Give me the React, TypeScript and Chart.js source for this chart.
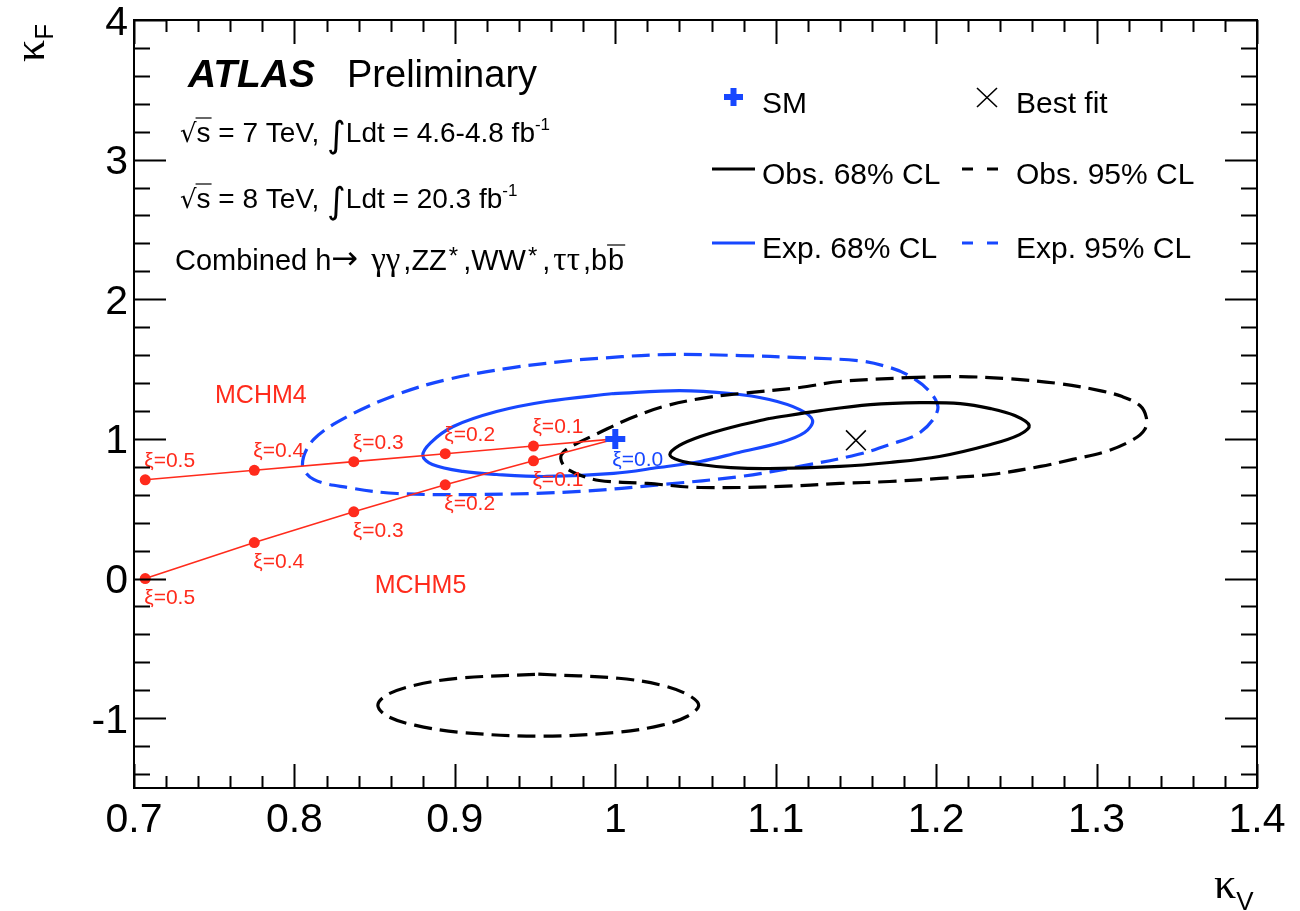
import React, { useEffect, useRef } from 'react';
import { Chart, registerables } from 'chart.js';

Chart.register(...registerables);

// ---------- axis ranges and ticks ----------
const X_MIN = 0.7;
const X_MAX = 1.4;
const Y_MIN = -1.5;
const Y_MAX = 4;
const xTickValues = [0.7, 0.8, 0.9, 1.0, 1.1, 1.2, 1.3, 1.4];
const xTickLabels = ['0.7', '0.8', '0.9', '1', '1.1', '1.2', '1.3', '1.4'];
const yTickValues = [-1, 0, 1, 2, 3, 4];
const yTickLabels = ['-1', '0', '1', '2', '3', '4'];

// ---------- contours (kappa_V, kappa_F) ----------
const obs68: [number, number][] = [
  [1.096, 1.146], [1.128, 1.203], [1.159, 1.246], [1.190, 1.260], [1.215, 1.253], [1.234, 1.217],
  [1.249, 1.167], [1.258, 1.096], [1.252, 1.031], [1.234, 0.960], [1.202, 0.874], [1.171, 0.831],
  [1.140, 0.803], [1.096, 0.788], [1.072, 0.795], [1.053, 0.817], [1.040, 0.845], [1.034, 0.888],
  [1.040, 0.953], [1.053, 1.017], [1.072, 1.082], [1.096, 1.146],
];
const obs95: [number, number][] = [
  [1.182, 1.439], [1.215, 1.446], [1.244, 1.432], [1.277, 1.396], [1.302, 1.346], [1.316, 1.303],
  [1.327, 1.239], [1.331, 1.153], [1.330, 1.067], [1.323, 0.996], [1.306, 0.910], [1.285, 0.853],
  [1.265, 0.803], [1.234, 0.745], [1.202, 0.717], [1.171, 0.695], [1.140, 0.681], [1.103, 0.660],
  [1.053, 0.652], [1.020, 0.681], [0.990, 0.702], [0.977, 0.745], [0.969, 0.795], [0.966, 0.860],
  [0.968, 0.910], [0.976, 0.967], [0.989, 1.039], [1.009, 1.146], [1.030, 1.232], [1.053, 1.289],
  [1.078, 1.325], [1.115, 1.368], [1.140, 1.411], [1.182, 1.439],
];
const obs95Island: [number, number][] = [
  [0.952, -0.685], [1.002, -0.714], [1.029, -0.764], [1.045, -0.831], [1.052, -0.907], [1.045, -0.986],
  [1.029, -1.050], [1.002, -1.100], [0.952, -1.129], [0.902, -1.100], [0.875, -1.050], [0.858, -0.986],
  [0.852, -0.907], [0.858, -0.831], [0.875, -0.764], [0.902, -0.714], [0.952, -0.685],
];
const exp68: [number, number][] = [
  [0.999, 1.325], [1.040, 1.346], [1.072, 1.325], [1.096, 1.282], [1.115, 1.210], [1.123, 1.132],
  [1.118, 1.046], [1.103, 0.974], [1.077, 0.903], [1.053, 0.838], [1.027, 0.795], [0.999, 0.753],
  [0.957, 0.731], [0.926, 0.745], [0.905, 0.767], [0.886, 0.817], [0.880, 0.881], [0.885, 0.974],
  [0.899, 1.089], [0.926, 1.196], [0.957, 1.268], [0.999, 1.325],
];
const exp95: [number, number][] = [
  [0.978, 1.568], [1.030, 1.604], [1.078, 1.597], [1.115, 1.582], [1.151, 1.561], [1.167, 1.525],
  [1.182, 1.461], [1.196, 1.339], [1.201, 1.210], [1.190, 1.046], [1.171, 0.960], [1.151, 0.888],
  [1.115, 0.803], [1.078, 0.731], [1.030, 0.674], [0.978, 0.624], [0.916, 0.602], [0.864, 0.609],
  [0.833, 0.652], [0.812, 0.710], [0.805, 0.817], [0.812, 0.996], [0.833, 1.160], [0.864, 1.318],
  [0.895, 1.425], [0.936, 1.511], [0.978, 1.568],
];

// ---------- composite Higgs model benchmarks ----------
const xiLabels = ['ξ=0.0', 'ξ=0.1', 'ξ=0.2', 'ξ=0.3', 'ξ=0.4', 'ξ=0.5'];
const mchm4KV = [1.0, 0.949, 0.894, 0.837, 0.775, 0.707];
const mchm4KF = [1.0, 0.949, 0.894, 0.837, 0.775, 0.707];
const mchm5KV = [1.0, 0.949, 0.894, 0.837, 0.775, 0.707];
const mchm5KF = [1.0, 0.843, 0.671, 0.478, 0.258, 0.0];

const smPoint = [1.0, 1.0];
const bestFitPoint = [1.15, 0.99];

// ---------- styles ----------
const BLUE = '#1747ff';
const RED = '#ff2b1c';
const BLACK = '#000000';
const SANS = '"Liberation Sans", Arial, Helvetica, sans-serif';
const SERIF = '"Liberation Serif", "DejaVu Serif", serif';
const SYM = '"DejaVu Sans", sans-serif';
const GREEK = '"Liberation Serif", "DejaVu Serif", serif';

type Seg = { t: string; font: string; dy?: number; over?: number; gap?: number };

function drawRich(ctx: CanvasRenderingContext2D, x: number, y: number, segs: Seg[]) {
  let cx = x;
  for (const s of segs) {
    ctx.font = s.font;
    ctx.fillText(s.t, cx, y + (s.dy || 0));
    const w = ctx.measureText(s.t).width;
    if (s.over !== undefined) {
      ctx.beginPath();
      ctx.lineWidth = 1.2;
      ctx.moveTo(cx - 1, y + s.over);
      ctx.lineTo(cx + w + 1, y + s.over);
      ctx.stroke();
    }
    cx += w + (s.gap || 0);
  }
  return cx;
}

const overlayPlugin = {
  id: 'rootOverlay',
  afterDatasetsDraw(chart: any) {
    const ctx: CanvasRenderingContext2D = chart.ctx;
    const xs = chart.scales.x;
    const ys = chart.scales.y;
    const { left, right, top, bottom } = chart.chartArea;
    ctx.save();
    ctx.textBaseline = 'alphabetic';

    // --- xi labels ---
    ctx.font = `21px ${SANS}`;
    ctx.textAlign = 'left';
    ctx.fillStyle = RED;
    for (let i = 1; i < mchm4KV.length; i++) {
      const px = xs.getPixelForValue(mchm4KV[i]);
      const py = ys.getPixelForValue(mchm4KF[i]);
      ctx.fillText(xiLabels[i], px - 1, py - 13);
    }
    for (let i = 1; i < mchm5KV.length; i++) {
      const px = xs.getPixelForValue(mchm5KV[i]);
      const py = ys.getPixelForValue(mchm5KF[i]);
      ctx.fillText(xiLabels[i], px - 1, py + 25);
    }
    ctx.fillStyle = BLUE;
    ctx.fillText(xiLabels[0], xs.getPixelForValue(smPoint[0]) - 3, ys.getPixelForValue(smPoint[1]) + 27);

    ctx.fillStyle = RED;
    ctx.font = `25px ${SANS}`;
    ctx.fillText('MCHM4', xs.getPixelForValue(0.7505), ys.getPixelForValue(1.26));
    ctx.fillText('MCHM5', xs.getPixelForValue(0.850), ys.getPixelForValue(-0.10));

    // --- frame and ticks ---
    ctx.strokeStyle = BLACK;
    ctx.lineWidth = 2;
    ctx.beginPath();
    ctx.rect(left, top, right - left, bottom - top);
    ctx.stroke();
    ctx.beginPath();
    for (let k = 0; k <= 35; k++) {
      const v = X_MIN + k * 0.02;
      const px = Math.round(xs.getPixelForValue(v)) + 0.5;
      const len = k % 5 === 0 ? 24 : 12;
      ctx.moveTo(px, bottom);
      ctx.lineTo(px, bottom - len);
      ctx.moveTo(px, top);
      ctx.lineTo(px, top + len);
    }
    for (let k = 0; k <= 27; k++) {
      const v = -1.4 + k * 0.2;
      const py = Math.round(ys.getPixelForValue(v)) + 0.5;
      const major = Math.abs(v - Math.round(v)) < 1e-6;
      const len = major ? 32 : 16;
      ctx.moveTo(left, py);
      ctx.lineTo(left + len, py);
      ctx.moveTo(right, py);
      ctx.lineTo(right - len, py);
    }
    ctx.stroke();

    // --- tick labels ---
    ctx.fillStyle = BLACK;
    ctx.font = `41px ${SANS}`;
    ctx.textAlign = 'center';
    xTickValues.forEach((v, i) => {
      ctx.fillText(xTickLabels[i], xs.getPixelForValue(v), bottom + 44);
    });
    ctx.textAlign = 'right';
    yTickValues.forEach((v, i) => {
      ctx.fillText(yTickLabels[i], left - 6, ys.getPixelForValue(v) + 14.5);
    });

    // --- axis titles ---
    ctx.textAlign = 'left';
    ctx.font = `44px ${SERIF}`;
    ctx.fillText('κ', 1214, 898);
    const kw = ctx.measureText('κ').width;
    ctx.font = `26px ${SANS}`;
    ctx.fillText('V', 1214 + kw, 910);

    ctx.save();
    ctx.translate(44, 62);
    ctx.rotate(-Math.PI / 2);
    ctx.font = `44px ${SERIF}`;
    ctx.fillText('κ', 0, 0);
    const kw2 = ctx.measureText('κ').width;
    ctx.font = `26px ${SANS}`;
    ctx.fillText('F', kw2, 9);
    ctx.restore();

    // --- header text ---
    ctx.fillStyle = BLACK;
    ctx.strokeStyle = BLACK;
    ctx.font = `italic bold 39px ${SANS}`;
    ctx.fillText('ATLAS', 188, 87);
    ctx.font = `38px ${SANS}`;
    ctx.fillText('Preliminary', 347, 87);

    const F28 = `28px ${SANS}`;
    const F29 = `29px ${SANS}`;
    const F17 = `17px ${SANS}`;
    drawRich(ctx, 180, 142, [
      { t: '√', font: `26px ${SYM}` },
      { t: 's', font: F28, over: -24 },
      { t: ' = 7 TeV, ', font: F28 },
      { t: '∫', font: `36px ${SYM}`, dy: 5 },
      { t: 'Ldt = 4.6-4.8 fb', font: F28 },
      { t: '-1', font: F17, dy: -12 },
    ]);
    drawRich(ctx, 180, 208, [
      { t: '√', font: `26px ${SYM}` },
      { t: 's', font: F28, over: -24 },
      { t: ' = 8 TeV, ', font: F28 },
      { t: '∫', font: `36px ${SYM}`, dy: 5 },
      { t: 'Ldt = 20.3 fb', font: F28 },
      { t: '-1', font: F17, dy: -12 },
    ]);
    drawRich(ctx, 175, 270, [
      { t: 'Combined h', font: F29 },
      { t: '→', font: `32px ${SYM}`, dy: -1, gap: 13 },
      { t: 'γγ', font: `33px ${GREEK}`, gap: 3 },
      { t: ',ZZ', font: F29, gap: 2 },
      { t: '*', font: `24px ${SANS}`, dy: -6, gap: 5 },
      { t: ',WW', font: F29, gap: 2 },
      { t: '*', font: `24px ${SANS}`, dy: -6, gap: 5 },
      { t: ',', font: F29, gap: 3 },
      { t: 'ττ', font: `33px ${GREEK}`, gap: 3 },
      { t: ',b', font: F29, gap: 1 },
      { t: 'b', font: F29, over: -25 },
    ]);

    // --- legend ---
    const FL = `30px ${SANS}`;
    ctx.font = FL;
    ctx.textAlign = 'left';
    // SM cross
    ctx.strokeStyle = BLUE;
    ctx.lineWidth = 6;
    ctx.beginPath();
    ctx.moveTo(724, 97); ctx.lineTo(743, 97);
    ctx.moveTo(733.5, 88); ctx.lineTo(733.5, 106);
    ctx.stroke();
    ctx.fillText('SM', 762, 113);
    // best fit X
    ctx.strokeStyle = BLACK;
    ctx.lineWidth = 1.6;
    ctx.beginPath();
    ctx.moveTo(977, 88); ctx.lineTo(997, 107);
    ctx.moveTo(997, 88); ctx.lineTo(977, 107);
    ctx.stroke();
    ctx.fillText('Best fit', 1016, 113);
    // line samples
    const sample = (color: string, y: number, dashed: boolean, x0: number) => {
      ctx.strokeStyle = color;
      ctx.lineWidth = 3;
      ctx.beginPath();
      if (dashed) {
        ctx.moveTo(x0, y); ctx.lineTo(x0 + 11, y);
        ctx.moveTo(x0 + 25, y); ctx.lineTo(x0 + 36, y);
      } else {
        ctx.moveTo(x0, y); ctx.lineTo(x0 + 43, y);
      }
      ctx.stroke();
    };
    sample(BLACK, 169, false, 712);
    ctx.fillText('Obs. 68% CL', 762, 184);
    sample(BLACK, 169, true, 962);
    ctx.fillText('Obs. 95% CL', 1016, 184);
    sample(BLUE, 243, false, 712);
    ctx.fillText('Exp. 68% CL', 762, 258);
    sample(BLUE, 243, true, 962);
    ctx.fillText('Exp. 95% CL', 1016, 258);

    ctx.restore();
  },
};

const toXY = (pts: [number, number][]) => pts.map(([x, y]) => ({ x, y }));

export default function App() {
  const canvasRef = useRef<HTMLCanvasElement>(null);

  useEffect(() => {
    const canvas = canvasRef.current;
    if (!canvas) return;
    const contour = (label: string, pts: [number, number][], color: string, dashed: boolean, order: number) => ({
      label,
      data: toXY(pts),
      showLine: true,
      borderColor: color,
      borderWidth: 3.2,
      borderDash: dashed ? [18, 8] : [],
      tension: 0.35,
      pointRadius: 0,
      fill: false,
      order,
    });
    const chart = new Chart(canvas, {
      type: 'scatter',
      data: {
        datasets: [
          {
            label: 'SM',
            data: [{ x: smPoint[0], y: smPoint[1] }],
            pointStyle: 'cross',
            pointRadius: 10,
            pointBorderWidth: 6,
            pointBorderColor: BLUE,
            pointBackgroundColor: BLUE,
            showLine: false,
            order: 0,
          },
          {
            label: 'Best fit',
            data: [{ x: bestFitPoint[0], y: bestFitPoint[1] }],
            pointStyle: 'crossRot',
            pointRadius: 14,
            pointBorderWidth: 1.6,
            pointBorderColor: BLACK,
            showLine: false,
            order: 1,
          },
          {
            label: 'MCHM4',
            data: mchm4KV.map((v, i) => ({ x: v, y: mchm4KF[i] })),
            showLine: true,
            borderColor: RED,
            borderWidth: 1.6,
            pointRadius: mchm4KV.map((_, i) => (i === 0 ? 0 : 5.5)),
            pointBackgroundColor: RED,
            pointBorderColor: RED,
            pointBorderWidth: 0,
            tension: 0,
            order: 2,
          },
          {
            label: 'MCHM5',
            data: mchm5KV.map((v, i) => ({ x: v, y: mchm5KF[i] })),
            showLine: true,
            borderColor: RED,
            borderWidth: 1.6,
            pointRadius: mchm5KV.map((_, i) => (i === 0 ? 0 : 5.5)),
            pointBackgroundColor: RED,
            pointBorderColor: RED,
            pointBorderWidth: 0,
            tension: 0,
            order: 3,
          },
          contour('Obs. 68% CL', obs68, BLACK, false, 4),
          contour('Obs. 95% CL', obs95, BLACK, true, 5),
          contour('Obs. 95% CL (island)', obs95Island, BLACK, true, 6),
          contour('Exp. 68% CL', exp68, BLUE, false, 7),
          contour('Exp. 95% CL', exp95, BLUE, true, 8),
        ] as any,
      },
      options: {
        responsive: false,
        animation: false,
        layout: { padding: { left: 134, top: 20, right: 43, bottom: 123 } },
        scales: {
          x: { type: 'linear', min: X_MIN, max: X_MAX, display: false },
          y: { type: 'linear', min: Y_MIN, max: Y_MAX, display: false },
        },
        plugins: {
          legend: { display: false },
          tooltip: { enabled: false },
        },
        events: [],
      },
      plugins: [overlayPlugin],
    });
    return () => chart.destroy();
  }, []);

  return (
    <div style={{ position: 'fixed', left: 0, top: 0, width: 1300, height: 911, background: '#ffffff' }}>
      <canvas ref={canvasRef} width={1300} height={911} style={{ display: 'block', width: 1300, height: 911 }} />
    </div>
  );
}
